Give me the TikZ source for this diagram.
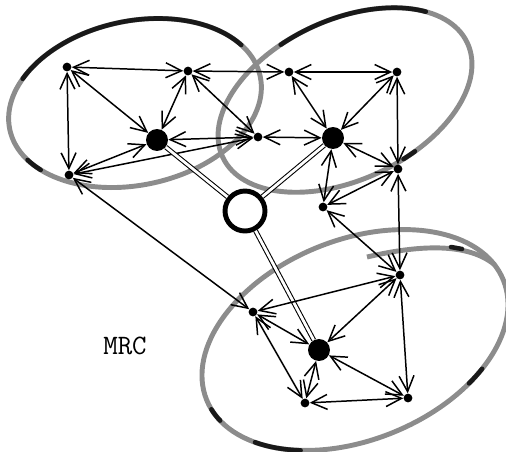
\documentclass[tikz,border=0pt]{standalone}
\usetikzlibrary{arrows.meta}

\begin{document}
\begin{tikzpicture}[x=0.02cm, y=-0.02cm,
	dot/.style={circle, fill=black, inner sep=0pt, minimum size=5pt},
	hub/.style={circle, fill=black, inner sep=0pt, minimum size=12.5pt},
	core/.style={circle, draw=black, fill=white, line width=2.8pt, inner sep=0pt, minimum size=0.8cm},
	link/.style={{Straight Barb[length=9pt,width=8.5pt]}-{Straight Barb[length=9pt,width=8.5pt]}, line width=0.85pt},
	bond/.style={double, double distance=1.6pt, line width=0.6pt},
	ring/.style={line width=2.8pt, draw=black!45},
	ink/.style={line width=2.6pt, draw=black!90, line cap=round}
	]
	\useasboundingbox (0,0) rectangle (506,451);

	% rings
	\begin{scope}[shift={(135,103)}, rotate=12]
		\draw [ring] (0,0) ellipse [x radius=128, y radius=82];
		\draw [ink] (215:128 and 82) arc [start angle=215, end angle=335, x radius=128, y radius=82];
		\draw [ink] (146:128 and 82) arc [start angle=146, end angle=156, x radius=128, y radius=82];
	\end{scope}
	\begin{scope}[shift={(345,100)}, rotate=25]
		\draw [ring] (0,0) ellipse [x radius=135, y radius=80];
		\draw [ink] (255:135 and 80) arc [start angle=255, end angle=325, x radius=135, y radius=80];
		\draw [ink] (72:135 and 80) arc [start angle=72, end angle=78, x radius=135, y radius=80];
	\end{scope}
	\begin{scope}[shift={(355,340)}, rotate=22]
		\draw [ring] (0,0) ellipse [x radius=160, y radius=100];
		\draw [ink] (125:160 and 100) arc [start angle=125, end angle=145, x radius=160, y radius=100];
		\draw [ink] (48:160 and 100) arc [start angle=48, end angle=56, x radius=160, y radius=100];
		\draw [ink] (166:160 and 100) arc [start angle=166, end angle=174, x radius=160, y radius=100];
	\end{scope}
	\draw [ring] (367,257) .. controls (410,247) and (465,240) .. (495,265);
	\draw [ink] (451,247) -- (462,249);

	% nodes
	\node (topa) [dot] at (67,67) {};
	\node (topb) [dot] at (188,71) {};
	\node (topc) [dot] at (289,72) {};
	\node (topd) [dot] at (397,72) {};
	\node (hubleft) [hub] at (157,140) {};
	\node (midtop) [dot] at (258,137) {};
	\node (hubright) [hub] at (333,138) {};
	\node (leftbot) [dot] at (69,175) {};
	\node (rightmid) [dot] at (398,169) {};
	\node (belowhub) [dot] at (323,207) {};
	\node (core) [core] at (245,211) {};
	\node (lowtop) [dot] at (400,275) {};
	\node (lowleft) [dot] at (253,312) {};
	\node (hublow) [hub] at (319,350) {};
	\node (lowbot) [dot] at (305,403) {};
	\node (lowright) [dot] at (408,398) {};

	\node (mrc) at (125,346) {\fontsize{16}{18}\selectfont\ttfamily MRC};

	% upper links
	\draw [link] (topa)--(topb);
	\draw [link] (topb)--(topc);
	\draw [link] (topc)--(topd);
	\draw [link] (topa)--(leftbot);
	\draw [link] (topa)--(hubleft);
	\draw [link] (topb)--(hubleft);
	\draw [link] (topb)--(midtop);
	\draw [link] (hubleft)--(midtop);
	\draw [link] (leftbot)--(hubleft);
	\draw [link] (leftbot)--(midtop);
	\draw [link] (midtop)--(hubright);
	\draw [link] (topc)--(hubright);
	\draw [link] (topd)--(hubright);
	\draw [link] (topd)--(rightmid);
	\draw [link] (hubright)--(rightmid);
	\draw [link] (hubright)--(belowhub);
	\draw [link] (rightmid)--(belowhub);

	% bonds to the core
	\draw [bond] (hubleft)--(core);
	\draw [bond] (hubright)--(core);
	\draw [bond] (core)--(hublow);

	% lower links
	\draw [link] (leftbot)--(lowleft);
	\draw [link] (belowhub)--(lowtop);
	\draw [link] (rightmid)--(lowtop);
	\draw [link] (lowtop)--(lowleft);
	\draw [link] (lowtop)--(hublow);
	\draw [link] (lowtop)--(lowright);
	\draw [link] (lowleft)--(hublow);
	\draw [link] (lowleft)--(lowbot);
	\draw [link] (hublow)--(lowbot);
	\draw [link] (hublow)--(lowright);
	\draw [link] (lowbot)--(lowright);

\end{tikzpicture}
\end{document}
